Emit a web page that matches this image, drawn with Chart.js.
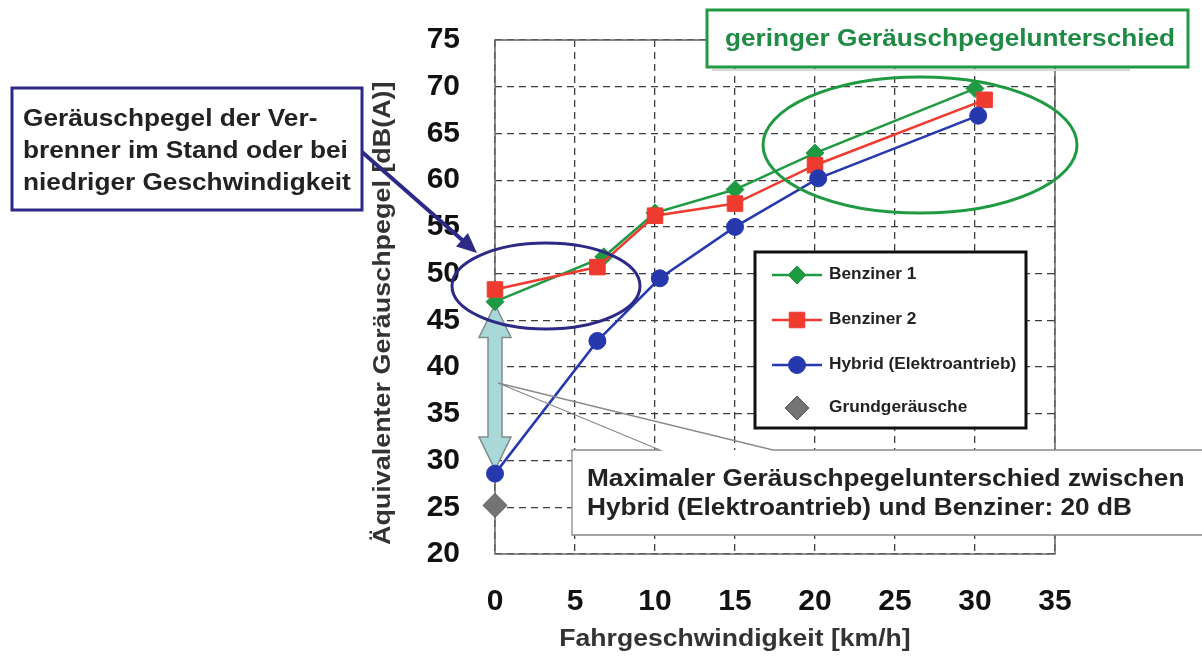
<!DOCTYPE html>
<html lang="de">
<head>
<meta charset="utf-8">
<title>Äquivalenter Geräuschpegel – Hybrid vs. Benziner</title>
<script src="https://cdn.jsdelivr.net/npm/chart.js@4.4.1/dist/chart.umd.min.js"></script>
<style>
  html, body { margin: 0; padding: 0; background: #fff; }
  #wrap { width: 1202px; height: 659px; }
</style>
</head>
<body>
<div id="wrap"><canvas id="noiseChart" width="1202" height="659"></canvas></div>
<script>
/* ── Data ────────────────────────────────────────────────── */
const speedB1 = [0, 6.8, 10, 15, 20, 30];
const levelB1 = [47.0, 51.8, 56.5, 59.0, 62.9, 69.8];

const speedB2 = [0, 6.4, 10, 15, 20, 30.6];
const levelB2 = [48.3, 50.7, 56.2, 57.5, 61.6, 68.6];

const speedHy = [0, 6.4, 10.3, 15, 20.2, 30.2];
const levelHy = [28.6, 42.8, 49.5, 55.0, 60.2, 66.9];

const speedBg = [0];
const levelBg = [25.2];

const seriesNames = ['Benziner 1', 'Benziner 2', 'Hybrid (Elektroantrieb)', 'Grundgeräusche'];

const xTitle = 'Fahrgeschwindigkeit [km/h]';
const yTitle = 'Äquivalenter Geräuschpegel [dB(A)]';

const noteLow = ['Geräuschpegel der Ver-', 'brenner im Stand oder bei', 'niedriger Geschwindigkeit'];
const noteHigh = 'geringer Geräuschpegelunterschied';
const noteMax = ['Maximaler Geräuschpegelunterschied zwischen', 'Hybrid (Elektroantrieb) und Benziner: 20 dB'];

const FONT = "'Liberation Sans', Arial, sans-serif";
const GREEN = '#1f9a42';
const RED = '#ef3b2f';
const BLUE = '#2538ad';
const NAVY = '#2c2a86';
const TEXT_STRETCH = 1.14;   // the source lettering is a bit wider than Arial

const toPoints = (xs, ys) => xs.map((v, i) => ({ x: v, y: ys[i] }));

/* ── Overlay helpers ─────────────────────────────────────── */
function wideText(ctx, text, x, y, sx, align, rot) {
    ctx.save();
    ctx.translate(x, y);
    if (rot) ctx.rotate(rot);
    ctx.scale(sx, 1);
    ctx.textAlign = align || 'left';
    ctx.textBaseline = 'middle';
    ctx.fillText(text, 0, 0);
    ctx.restore();
}

function drawDoubleArrow(ctx, cx, yTop, yBot) {
    const shaft = 7, head = 16, len = 33;
    ctx.beginPath();
    ctx.moveTo(cx, yTop);
    ctx.lineTo(cx + head, yTop + len);
    ctx.lineTo(cx + shaft, yTop + len);
    ctx.lineTo(cx + shaft, yBot - len);
    ctx.lineTo(cx + head, yBot - len);
    ctx.lineTo(cx, yBot);
    ctx.lineTo(cx - head, yBot - len);
    ctx.lineTo(cx - shaft, yBot - len);
    ctx.lineTo(cx - shaft, yTop + len);
    ctx.lineTo(cx - head, yTop + len);
    ctx.closePath();
    ctx.fillStyle = '#a9d8d8';
    ctx.fill();
    ctx.strokeStyle = '#7d8c8c';
    ctx.lineWidth = 1.5;
    ctx.stroke();
}

function drawEllipse(ctx, cx, cy, rx, ry, color) {
    ctx.beginPath();
    ctx.ellipse(cx, cy, rx, ry, 0, 0, Math.PI * 2);
    ctx.strokeStyle = color;
    ctx.lineWidth = 3;
    ctx.stroke();
}

function drawLegend(chart) {
    const ctx = chart.ctx;
    ctx.fillStyle = '#fff';
    ctx.fillRect(755, 252, 271, 176);
    ctx.strokeStyle = '#111';
    ctx.lineWidth = 3;
    ctx.strokeRect(755, 252, 271, 176);

    const rows = [275, 320, 365, 408];
    chart.data.datasets.forEach((ds, i) => {
        const yy = rows[i];
        if (ds.showLine !== false) {
            ctx.beginPath();
            ctx.moveTo(772, yy);
            ctx.lineTo(822, yy);
            ctx.strokeStyle = ds.borderColor;
            ctx.lineWidth = ds.borderWidth;
            ctx.stroke();
        }
        ctx.fillStyle = ds.pointBackgroundColor;
        ctx.strokeStyle = ds.pointBorderColor;
        ctx.lineWidth = ds.pointBorderWidth;
        Chart.helpers.drawPoint(ctx, {
            pointStyle: ds.pointStyle,
            radius: ds.pointRadius,
            borderWidth: ds.pointBorderWidth,
            rotation: 0
        }, 797, yy);
        ctx.fillStyle = '#222';
        ctx.font = `bold 16px ${FONT}`;
        wideText(ctx, ds.label, 829, yy, 1.08);
    });
}

const overlayPlugin = {
    id: 'overlay',
    beforeDatasetsDraw(chart) {
        const { ctx, chartArea: a, scales: { x, y } } = chart;
        ctx.save();
        ctx.setLineDash([]);
        ctx.strokeStyle = '#666';
        ctx.lineWidth = 1.5;
        ctx.strokeRect(a.left, a.top, a.right - a.left, a.bottom - a.top);

        // axis titles
        ctx.fillStyle = '#333';
        ctx.font = `bold 23px ${FONT}`;
        wideText(ctx, xTitle, 735, 640, 1.155, 'center');
        wideText(ctx, yTitle, 384, 545, 1.17, 'left', -Math.PI / 2);

        drawDoubleArrow(ctx, x.getPixelForValue(0), y.getPixelForValue(46.7), y.getPixelForValue(29.0));
        ctx.restore();
    },
    afterDatasetsDraw(chart) {
        const ctx = chart.ctx;
        ctx.save();
        ctx.setLineDash([]);

        // callout "Maximaler ..." with pointer
        ctx.fillStyle = '#fff';
        ctx.fillRect(572, 450, 630, 85);
        ctx.strokeStyle = '#8a8a8a';
        ctx.lineWidth = 1.3;
        ctx.beginPath();
        ctx.moveTo(1202, 450);
        ctx.lineTo(773, 450);
        ctx.lineTo(498, 383);
        ctx.lineTo(660, 450);
        ctx.lineTo(572, 450);
        ctx.lineTo(572, 535);
        ctx.lineTo(1202, 535);
        ctx.stroke();
        ctx.fillStyle = '#222';
        ctx.font = `bold 23px ${FONT}`;
        noteMax.forEach((t, i) => wideText(ctx, t, 587, 480 + i * 29, TEXT_STRETCH));

        drawLegend(chart);

        // ellipses
        drawEllipse(ctx, 546, 286, 94, 43, NAVY);
        drawEllipse(ctx, 920, 145, 157, 68, GREEN);

        // note box (left)
        ctx.fillStyle = '#fff';
        ctx.fillRect(12, 88, 350, 122);
        ctx.strokeStyle = NAVY;
        ctx.lineWidth = 3;
        ctx.strokeRect(12, 88, 350, 122);
        ctx.fillStyle = '#222';
        ctx.font = `bold 23px ${FONT}`;
        noteLow.forEach((t, i) => wideText(ctx, t, 23, 120 + i * 31.7, TEXT_STRETCH));

        // arrow from note box to the ellipse
        ctx.strokeStyle = NAVY;
        ctx.fillStyle = NAVY;
        ctx.lineWidth = 4;
        const x0 = 362, y0 = 152, x1 = 477, y1 = 253;
        const ang = Math.atan2(y1 - y0, x1 - x0);
        ctx.beginPath();
        ctx.moveTo(x0, y0);
        ctx.lineTo(x1 - 14 * Math.cos(ang), y1 - 14 * Math.sin(ang));
        ctx.stroke();
        ctx.beginPath();
        ctx.moveTo(x1, y1);
        ctx.lineTo(x1 - 20 * Math.cos(ang) + 9 * Math.sin(ang), y1 - 20 * Math.sin(ang) - 9 * Math.cos(ang));
        ctx.lineTo(x1 - 20 * Math.cos(ang) - 9 * Math.sin(ang), y1 - 20 * Math.sin(ang) + 9 * Math.cos(ang));
        ctx.closePath();
        ctx.fill();

        // green note box (top)
        ctx.strokeStyle = '#d6d6d6';
        ctx.lineWidth = 2;
        ctx.beginPath();
        ctx.moveTo(712, 70);
        ctx.lineTo(1130, 70);
        ctx.stroke();
        ctx.fillStyle = '#fff';
        ctx.fillRect(707, 10, 481, 57);
        ctx.strokeStyle = GREEN;
        ctx.lineWidth = 3;
        ctx.strokeRect(707, 10, 481, 57);
        ctx.fillStyle = '#1e8a44';
        ctx.font = `bold 23px ${FONT}`;
        wideText(ctx, noteHigh, 950, 40, TEXT_STRETCH, 'center');

        ctx.restore();
    }
};

/* ── Chart ───────────────────────────────────────────────── */
const ctx = document.getElementById('noiseChart');

new Chart(ctx, {
    type: 'scatter',
    data: {
        datasets: [
            {
                label: seriesNames[0],
                data: toPoints(speedB1, levelB1),
                showLine: true,
                clip: false,
                borderColor: GREEN,
                borderWidth: 2.5,
                pointStyle: 'rectRot',
                pointRadius: 9,
                pointBackgroundColor: GREEN,
                pointBorderColor: GREEN,
                pointBorderWidth: 1,
                order: 4
            },
            {
                label: seriesNames[1],
                data: toPoints(speedB2, levelB2),
                showLine: true,
                clip: false,
                borderColor: RED,
                borderWidth: 2.5,
                pointStyle: 'rect',
                pointRadius: 11,
                pointBackgroundColor: RED,
                pointBorderColor: RED,
                pointBorderWidth: 1,
                order: 3
            },
            {
                label: seriesNames[2],
                data: toPoints(speedHy, levelHy),
                showLine: true,
                clip: false,
                borderColor: BLUE,
                borderWidth: 2.5,
                pointStyle: 'circle',
                pointRadius: 8.5,
                pointBackgroundColor: BLUE,
                pointBorderColor: BLUE,
                pointBorderWidth: 1,
                order: 2
            },
            {
                label: seriesNames[3],
                data: toPoints(speedBg, levelBg),
                showLine: false,
                clip: false,
                borderColor: '#555',
                borderWidth: 0,
                pointStyle: 'rectRot',
                pointRadius: 12,
                pointBackgroundColor: '#737575',
                pointBorderColor: '#555',
                pointBorderWidth: 1,
                order: 1
            }
        ]
    },
    options: {
        responsive: false,
        animation: false,
        layout: { padding: { left: 360, top: 40, right: 147, bottom: 0 } },
        plugins: {
            legend: { display: false },
            tooltip: { enabled: false }
        },
        scales: {
            x: {
                type: 'linear',
                min: 0,
                max: 35,
                afterFit: s => { s.height = 105; s.paddingLeft = 0; s.paddingRight = 0; },
                ticks: {
                    stepSize: 5,
                    padding: 30,
                    color: '#111',
                    font: { family: FONT, size: 30, weight: 'bold' }
                },
                grid: { color: '#3c3c3c', lineWidth: 1.3, drawTicks: false },
                border: { display: false, dash: [7, 5] },
                title: { display: false, text: xTitle }
            },
            y: {
                min: 20,
                max: 75,
                afterFit: s => { s.width = 135; s.paddingTop = 0; s.paddingBottom = 0; },
                ticks: {
                    stepSize: 5,
                    padding: 35,
                    color: '#111',
                    font: { family: FONT, size: 30, weight: 'bold' }
                },
                grid: { color: '#3c3c3c', lineWidth: 1.3, drawTicks: false },
                border: { display: false, dash: [7, 5] },
                title: { display: false, text: yTitle }
            }
        }
    },
    plugins: [overlayPlugin]
});
</script>
</body>
</html>
